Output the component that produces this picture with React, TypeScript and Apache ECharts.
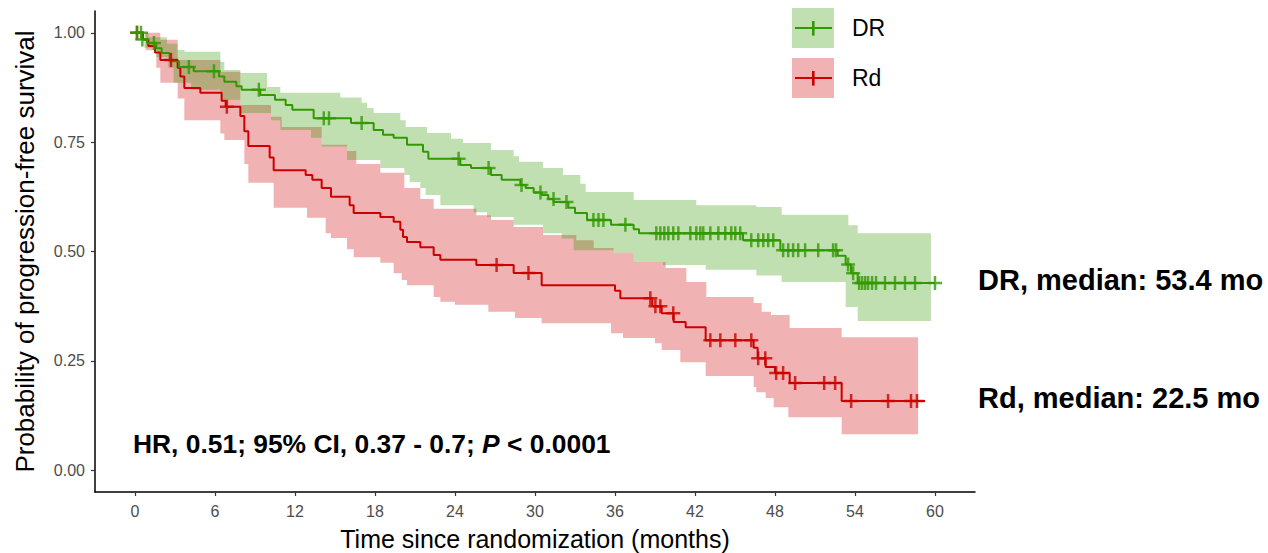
import React, { useEffect, useRef } from "react";
import * as echarts from "echarts";

// ---- Data (months, survival probability) ----
const X_TICKS = [0, 6, 12, 18, 24, 30, 36, 42, 48, 54, 60];
const Y_TICKS = [0, 0.25, 0.5, 0.75, 1.0];

// DR Kaplan-Meier steps: from time T[i] survival is S[i]
const DR_T = [0, 0.5, 0.9, 1.6, 2.0, 2.6, 3.3, 4.4, 6.3, 6.7, 7.6, 8.0, 9.4, 10.5, 11.3, 11.8, 13.4, 16.2, 17.9, 18.6, 19.4, 20.4, 21.6, 22.0, 24.4, 25.2, 26.7, 27.5, 28.9, 29.3, 29.9, 30.5, 31.0, 31.4, 32.5, 33.0, 33.9, 35.7, 37.4, 37.8, 45.6, 48.4, 52.7, 53.3, 53.7, 54.2];
const DR_S = [1.0, 0.985, 0.977, 0.965, 0.954, 0.935, 0.922, 0.912, 0.9, 0.888, 0.878, 0.87, 0.858, 0.847, 0.835, 0.824, 0.805, 0.794, 0.778, 0.767, 0.76, 0.744, 0.728, 0.712, 0.698, 0.691, 0.675, 0.664, 0.652, 0.645, 0.635, 0.629, 0.62, 0.613, 0.6, 0.588, 0.572, 0.561, 0.551, 0.542, 0.526, 0.503, 0.49, 0.47, 0.45, 0.428];
const DR_END = 60;
const DR_CENSOR = [0.15, 0.45, 0.55, 1.42, 4.04, 5.92, 9.29, 14.16, 14.55, 17.0, 24.27, 26.52, 28.99, 30.41, 31.39, 32.36, 34.38, 34.76, 35.13, 36.78, 39.1, 39.4, 39.7, 40.0, 40.37, 40.75, 41.65, 42.1, 42.4, 42.62, 43.15, 43.75, 44.27, 44.72, 45.02, 45.39, 46.22, 46.74, 47.12, 47.49, 47.87, 48.61, 48.99, 49.36, 49.74, 50.26, 51.24, 52.36, 52.58, 53.48, 53.86, 54.31, 54.53, 54.76, 54.98, 55.28, 55.58, 56.25, 57.0, 57.75, 58.5, 60.0];

// DR 95% CI band
const DRU_T = [0, 1.0, 2.4, 3.2, 3.7, 6.4, 6.7, 7.9, 9.9, 10.9, 15.4, 17.0, 17.4, 17.9, 19.9, 20.3, 21.9, 23.7, 24.6, 26.7, 28.4, 28.8, 30.6, 32.1, 33.4, 33.8, 37.4, 42.1, 46.6, 48.5, 53.5, 54.2];
const DRU_S = [1.0, 0.99, 0.975, 0.961, 0.957, 0.934, 0.915, 0.908, 0.876, 0.863, 0.852, 0.84, 0.828, 0.817, 0.8, 0.785, 0.771, 0.758, 0.748, 0.732, 0.718, 0.705, 0.691, 0.675, 0.655, 0.636, 0.618, 0.606, 0.602, 0.584, 0.56, 0.542];
const DRL_T = [0, 0.7, 1.6, 2.5, 2.9, 4.2, 6.4, 7.9, 10.2, 10.9, 13.2, 14.0, 15.9, 18.4, 20.2, 20.6, 21.4, 21.8, 22.9, 25.4, 26.4, 28.4, 30.6, 32.0, 32.9, 35.9, 37.4, 39.6, 42.8, 46.6, 48.5, 53.3, 54.2];
const DRL_S = [1.0, 0.966, 0.945, 0.92, 0.886, 0.87, 0.847, 0.817, 0.8, 0.778, 0.76, 0.74, 0.709, 0.691, 0.675, 0.659, 0.645, 0.629, 0.606, 0.59, 0.579, 0.561, 0.542, 0.53, 0.503, 0.497, 0.476, 0.469, 0.458, 0.445, 0.43, 0.373, 0.341];
const DR_BAND_END = 59.7;

// Rd Kaplan-Meier steps
const RD_T = [0, 0.6, 1.0, 1.5, 1.9, 3.2, 3.4, 3.7, 4.9, 6.5, 6.8, 7.9, 8.2, 8.5, 10.1, 10.4, 12.8, 13.3, 14.0, 14.7, 16.1, 16.4, 18.4, 19.4, 19.9, 20.1, 20.4, 21.4, 22.4, 22.9, 25.6, 28.4, 30.5, 36.0, 36.4, 38.8, 39.5, 40.4, 41.3, 42.8, 46.4, 46.7, 47.3, 48.0, 49.1, 53.0];
const RD_S = [1.0, 0.985, 0.97, 0.955, 0.938, 0.92, 0.9, 0.874, 0.863, 0.845, 0.831, 0.81, 0.775, 0.741, 0.715, 0.686, 0.675, 0.664, 0.645, 0.625, 0.606, 0.588, 0.579, 0.568, 0.55, 0.533, 0.522, 0.51, 0.492, 0.481, 0.469, 0.451, 0.423, 0.41, 0.393, 0.375, 0.359, 0.339, 0.327, 0.297, 0.28, 0.256, 0.236, 0.222, 0.199, 0.158];
const RD_END = 59.25;
const RD_CENSOR = [0.15, 2.7, 6.89, 27.12, 29.51, 38.65, 39.03, 39.4, 40.37, 43.15, 43.9, 45.02, 46.22, 46.74, 47.27, 48.09, 48.61, 49.51, 51.69, 52.51, 53.71, 56.48, 58.2, 58.65];

// Rd 95% CI band
const RDU_T = [0, 1.9, 3.2, 6.4, 7.9, 10.2, 11.0, 14.0, 15.9, 16.6, 18.4, 20.2, 21.4, 22.4, 25.6, 26.7, 28.4, 30.6, 33.1, 34.4, 35.9, 37.4, 39.8, 41.35, 42.85, 46.4, 47.0, 47.7, 49.1, 53.0];
const RDU_S = [1.0, 0.984, 0.938, 0.911, 0.835, 0.808, 0.785, 0.744, 0.73, 0.7, 0.68, 0.645, 0.62, 0.598, 0.583, 0.572, 0.556, 0.538, 0.526, 0.508, 0.497, 0.476, 0.462, 0.43, 0.396, 0.382, 0.362, 0.355, 0.325, 0.304];
const RDL_T = [0, 0.8, 1.6, 1.9, 3.2, 3.7, 6.4, 6.7, 8.2, 8.5, 10.4, 12.9, 14.3, 14.7, 15.9, 16.4, 18.4, 19.4, 20.0, 20.4, 22.4, 22.9, 24.0, 26.5, 28.5, 30.5, 35.7, 36.6, 39.0, 39.5, 40.9, 42.8, 46.4, 46.6, 47.3, 47.9, 49.0, 53.0];
const RDL_S = [1.0, 0.96, 0.92, 0.886, 0.85, 0.8, 0.77, 0.755, 0.7, 0.657, 0.6, 0.577, 0.542, 0.531, 0.505, 0.487, 0.474, 0.45, 0.435, 0.423, 0.396, 0.385, 0.378, 0.362, 0.348, 0.336, 0.313, 0.302, 0.29, 0.275, 0.247, 0.215, 0.19, 0.178, 0.165, 0.144, 0.121, 0.082];
const RD_BAND_END = 58.73;

const GREEN = "#339900";
const RED = "#cc0000";
const GREEN_FILL = "rgba(51,153,0,0.3)";
const RED_FILL = "rgba(204,0,0,0.3)";
const FONT = "'Liberation Sans', Arial, sans-serif";
const CROSS = "path://M6,0H8.6V14.6H6Z M0,6H14.6V8.6H0Z";

function stepPoints(T: number[], S: number[], end: number): number[][] {
  const pts: number[][] = [];
  for (let i = 0; i < T.length; i++) {
    if (i > 0) pts.push([T[i], S[i - 1]]);
    pts.push([T[i], S[i]]);
  }
  pts.push([end, S[S.length - 1]]);
  return pts;
}

function kmData(T: number[], S: number[], end: number): number[][] {
  const d = T.map((t, i) => [t, S[i]]);
  d.push([end, S[S.length - 1]]);
  return d;
}

function survAt(T: number[], S: number[], t: number): number {
  let v = S[0];
  for (let i = 0; i < T.length; i++) if (T[i] <= t) v = S[i];
  return v;
}

function bandSeries(UT: number[], US: number[], LT: number[], LS: number[], end: number, fill: string, z: number) {
  return {
    type: "custom",
    coordinateSystem: "cartesian2d",
    silent: true,
    z,
    data: [[0, 0]],
    renderItem: (_params: any, api: any) => {
      const up = stepPoints(UT, US, end);
      const lo = stepPoints(LT, LS, end).reverse();
      const points = up.concat(lo).map((p) => api.coord(p));
      return { type: "polygon", shape: { points }, style: { fill, stroke: "none" } };
    },
  };
}

export default function App() {
  const ref = useRef<HTMLDivElement>(null);
  useEffect(() => {
    if (!ref.current) return;
    const chart = echarts.init(ref.current, undefined, { renderer: "svg" });
    const legendItem = (y: number, fill: string, color: string, label: string) => [
      { type: "rect", shape: { x: 792, y: y - 20, width: 42, height: 40 }, style: { fill } },
      { type: "line", shape: { x1: 795, y1: y, x2: 832, y2: y }, style: { stroke: color, lineWidth: 2.2 } },
      { type: "rect", shape: { x: 812, y: y - 7, width: 2.6, height: 14.6 }, style: { fill: color } },
      {
        type: "text",
        x: 852,
        y,
        style: { text: label, font: `23px ${FONT}`, fill: "#000", verticalAlign: "middle", align: "left" },
      },
    ];
    chart.setOption({
      animation: false,
      grid: { left: 95, right: 293, top: 11, bottom: 61, outerBoundsMode: "none", containLabel: false },
      xAxis: {
        type: "value",
        min: -3,
        max: 63,
        name: "Time since randomization (months)",
        nameLocation: "middle",
        nameGap: 34,
        nameMoveOverlap: false,
        nameTextStyle: { fontFamily: FONT, fontSize: 25, color: "#000" },
        axisLine: { show: true, onZero: false, lineStyle: { color: "#000", width: 1.5 } },
        axisTick: { show: true, length: 4, lineStyle: { color: "#333", width: 1.2 }, customValues: X_TICKS },
        axisLabel: { fontFamily: FONT, fontSize: 16, color: "#4d4d4d", margin: 11, customValues: X_TICKS },
        splitLine: { show: false },
      },
      yAxis: {
        type: "value",
        min: -0.05,
        max: 1.05,
        name: "Probability of progression-free survival",
        nameLocation: "middle",
        nameGap: 57,
        nameMoveOverlap: false,
        nameTextStyle: { fontFamily: FONT, fontSize: 26, color: "#000" },
        axisLine: { show: true, onZero: false, lineStyle: { color: "#000", width: 1.5 } },
        axisTick: { show: true, length: 4, lineStyle: { color: "#333", width: 1.2 }, customValues: Y_TICKS },
        axisLabel: {
          fontFamily: FONT,
          fontSize: 16,
          color: "#4d4d4d",
          margin: 10,
          customValues: Y_TICKS,
          formatter: (v: number) => v.toFixed(2),
        },
        splitLine: { show: false },
      },
      series: [
        bandSeries(RDU_T, RDU_S, RDL_T, RDL_S, RD_BAND_END, RED_FILL, 1),
        bandSeries(DRU_T, DRU_S, DRL_T, DRL_S, DR_BAND_END, GREEN_FILL, 2),
        {
          type: "line",
          step: "end",
          data: kmData(RD_T, RD_S, RD_END),
          showSymbol: false,
          lineStyle: { color: RED, width: 2 },
          z: 3,
          silent: true,
        },
        {
          type: "line",
          step: "end",
          data: kmData(DR_T, DR_S, DR_END),
          showSymbol: false,
          lineStyle: { color: GREEN, width: 2 },
          z: 4,
          silent: true,
        },
        {
          type: "scatter",
          data: RD_CENSOR.map((t) => [t, survAt(RD_T, RD_S, t)]),
          symbol: CROSS,
          symbolSize: 14,
          itemStyle: { color: RED },
          z: 5,
          silent: true,
        },
        {
          type: "scatter",
          data: DR_CENSOR.map((t) => [t, survAt(DR_T, DR_S, t)]),
          symbol: CROSS,
          symbolSize: 14,
          itemStyle: { color: GREEN },
          z: 6,
          silent: true,
        },
      ],
      graphic: [
        ...legendItem(28, GREEN_FILL, GREEN, "DR"),
        ...legendItem(78, RED_FILL, RED, "Rd"),
        {
          type: "text",
          x: 978,
          y: 280,
          style: {
            text: "DR, median: 53.4 mo",
            font: `bold 29px ${FONT}`,
            fill: "#000",
            verticalAlign: "middle",
          },
        },
        {
          type: "text",
          x: 978,
          y: 398,
          style: {
            text: "Rd, median: 22.5 mo",
            font: `bold 29px ${FONT}`,
            fill: "#000",
            verticalAlign: "middle",
          },
        },
        {
          type: "text",
          x: 133,
          y: 444,
          style: {
            text: "{b|HR, 0.51; 95% CI, 0.37 - 0.7; }{i|P}{b| < 0.0001}",
            verticalAlign: "middle",
            rich: {
              b: { fontFamily: FONT, fontWeight: "bold", fontSize: 26.4, fill: "#000", color: "#000" },
              i: { fontFamily: FONT, fontWeight: "bold", fontStyle: "italic", fontSize: 26.4, fill: "#000", color: "#000" },
            },
          },
        },
      ],
    });
    return () => chart.dispose();
  }, []);
  return (
    <div
      ref={ref}
      style={{ position: "absolute", left: 0, top: 0, width: 1268, height: 553, background: "#fff" }}
    />
  );
}
